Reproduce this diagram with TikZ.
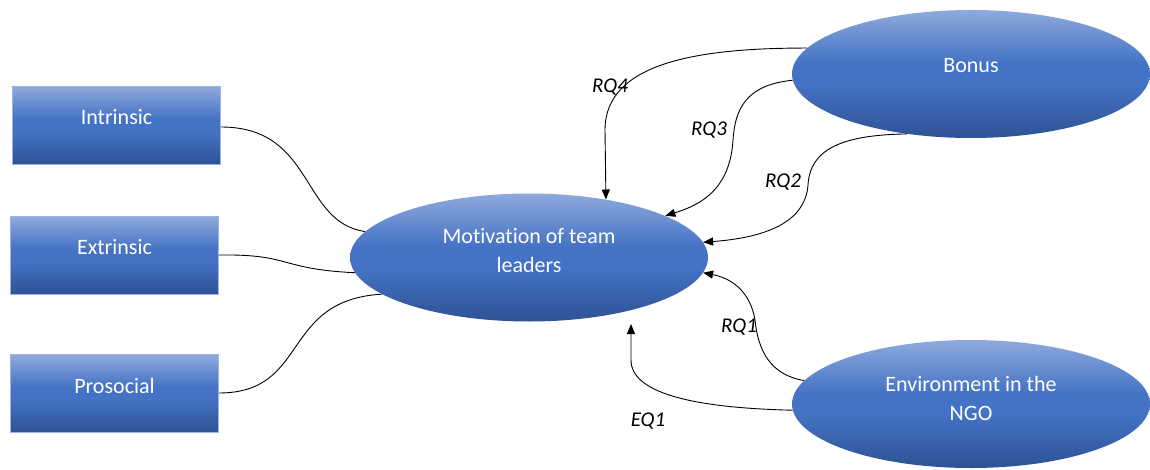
\documentclass[tikz,border=0pt]{standalone}
\usepackage{fontspec}
\setmainfont{Carlito}[Ligatures=NoCommon]
\usetikzlibrary{shapes.geometric,arrows.meta}
\definecolor{gtop}{HTML}{8EAADC}
\definecolor{gmid}{HTML}{4472C4}
\definecolor{gbot}{HTML}{2E5294}
\definecolor{bord}{HTML}{9DB5E0}
\pgfdeclareverticalshading{officeblue}{100bp}{color(0bp)=(gbot); color(25bp)=(gbot); color(46bp)=(gmid); color(54bp)=(gmid); color(75bp)=(gtop); color(100bp)=(gtop)}
\tikzset{
  grad/.style={shading=officeblue},
  boxnode/.style={grad,draw=bord,line width=0.8pt,rectangle,minimum width=208pt,minimum height=78pt,inner sep=0pt},
  ellnode/.style={grad,ellipse,minimum width=358pt,minimum height=128pt,inner sep=0pt},
  txt/.style={text=white,align=center,font=\fontsize{22}{29}\selectfont},
  conn/.style={black,line width=0.9pt},
  arr/.style={conn,-{Triangle[length=10pt,width=8pt]}},
  rq/.style={font=\fontsize{21}{23}\selectfont\itshape,text=black}
}
\begin{document}
\begin{tikzpicture}[x=1pt,y=-1pt]
\useasboundingbox (0,0) rectangle (1150,470);
\fill[white] (0,0) rectangle (1150,470);
% boxes
\node[boxnode,label={[txt,yshift=8pt]center:Intrinsic}] (intr) at (116.5,125.5) {};
\node[boxnode,label={[txt,yshift=8pt]center:Extrinsic}] (extr) at (114.5,255.5) {};
\node[boxnode,label={[txt,yshift=8pt]center:Prosocial}] (pros) at (114.5,393.5) {};
% ellipses
\node[ellnode,label={[txt,yshift=7pt]center:{Motivation of team\\leaders}}] (mot) at (529,257.5) {};
\node[ellnode,label={[txt,yshift=8pt]center:Bonus}] (bon) at (971,74) {};
\node[ellnode,label={[txt,yshift=6pt]center:{Environment in the\\NGO}}] (env) at (971,404) {};
\coordinate (eqtip) at (631,324);
% left connectors
\draw[conn] (intr.east |- 0,127) .. controls (315,127) and (300,222) .. (mot.171);
\draw[conn] (extr.east |- 0,255) .. controls (292,254) and (278,269) .. (mot.185);
\draw[conn] (pros.east |- 0,393) .. controls (310,393) and (280,300) .. (mot.194);
% right connectors
\draw[arr] (bon.171) .. controls (700,48) and (605,62) .. (605,130) -- (mot.37.4);
\draw[arr] (bon.182.6) .. controls (745,85) and (735,110) .. (733,140) .. controls (730,190) and (700,205) .. (mot.17);
\draw[arr] (bon.223) .. controls (840,135) and (810,150) .. (808,185) .. controls (805,225) and (760,238) .. (mot.5.5);
\draw[arr] (env.172) .. controls (770,375) and (758,350) .. (755,320) .. controls (750,290) and (730,278) .. (mot.355.5);
\draw[arr] (env.182.3) .. controls (700,408) and (631,395) .. (631,360) -- (eqtip);
% labels
\node[rq] (l4) at (610,87) {RQ4};
\node[rq] (l3) at (709,130) {RQ3};
\node[rq] (l2) at (783,182) {RQ2};
\node[rq] (l1) at (739,327) {RQ1};
\node[rq] (le) at (648,421) {EQ1};
\end{tikzpicture}
\end{document}
